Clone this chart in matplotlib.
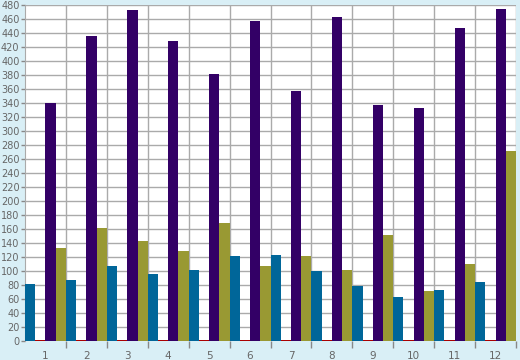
import numpy as np
import matplotlib
matplotlib.use("Agg")
import matplotlib.pyplot as plt

categories = [str(i) for i in range(1, 13)]
blue = [81, 87, 107, 96, 101, 121, 123, 100, 79, 63, 73, 84]
red = [1.5] * 12
purple = [340, 436, 473, 429, 382, 457, 357, 463, 337, 333, 447, 474]
olive = [133, 161, 143, 128, 168, 107, 122, 101, 152, 71, 110, 272]

series = [
    (blue, "#006699"),
    (red, "#aa0000"),
    (purple, "#330066"),
    (olive, "#999933"),
]

fig = plt.figure(figsize=(5.2, 3.6), dpi=100, facecolor="#d9eff6")
ax = fig.add_axes([25 / 520, 19 / 360, 491 / 520, 336 / 360])
ax.set_facecolor("white")

x = np.arange(len(categories))
w = 0.25
for k, (vals, col) in enumerate(series):
    ax.bar(x + (k - 1.5) * w, vals, width=w, color=col, linewidth=0, zorder=3)

ax.set_xlim(-0.5, len(categories) - 0.5)
ax.set_ylim(0, 480)
ax.set_yticks(np.arange(0, 481, 20))
ax.set_xticks(x)
ax.set_xticklabels(categories)
ax.set_xticks(np.arange(0.5, len(categories) - 0.5 + 0.01, 1), minor=True)

ax.grid(axis="y", color="#aaaaaa", linewidth=1, zorder=0)
ax.grid(axis="x", which="minor", color="#aaaaaa", linewidth=1, zorder=0)

ax.tick_params(axis="x", which="major", length=0, pad=7, labelsize=7.5, labelcolor="#666666")
ax.tick_params(axis="x", which="minor", length=5, color="#888888", width=1)
ax.tick_params(axis="y", length=3, color="#888888", width=1, pad=1, labelsize=7, labelcolor="#666666")

for s in ["top", "right", "bottom"]:
    ax.spines[s].set_visible(False)
ax.spines["left"].set_color("#aaaaaa")

fig.savefig("out.png", dpi=100, facecolor=fig.get_facecolor())
